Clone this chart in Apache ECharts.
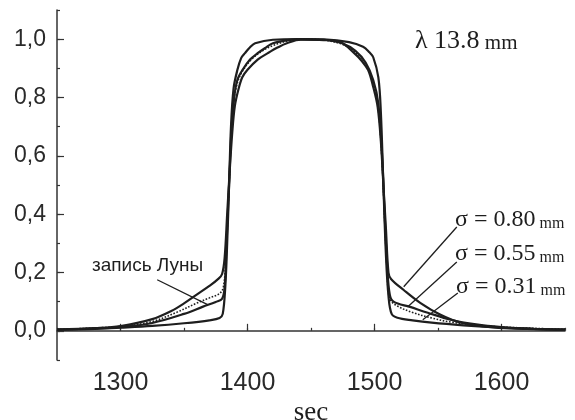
<!DOCTYPE html>
<html lang="ru">
<head>
<meta charset="UTF-8">
<title>λ 13.8 mm</title>
<script src="https://cdn.jsdelivr.net/npm/echarts@6/dist/echarts.min.js"></script>
<style>
    body { margin: 0; padding: 0; background: #fff; overflow: hidden; }
    #main { width: 575px; height: 420px; }
</style>
</head>
<body>
<div id="main"></div>
<script>
    // values: [sec, normalized signal]
    var sigma031 = [
        [1250, 0.004], [1280, 0.007], [1300, 0.011], [1325, 0.017], [1350, 0.026],
        [1370, 0.036], [1378, 0.044], [1380.5, 0.058], [1382.5, 0.15], [1384, 0.3],
        [1385.5, 0.5], [1387, 0.7], [1389, 0.83], [1392, 0.894], [1395, 0.935],
        [1398, 0.952], [1402, 0.972], [1406, 0.986], [1420, 0.998], [1440, 1.0],
        [1460, 0.999], [1480, 0.99], [1491, 0.974], [1496, 0.955], [1499, 0.938],
        [1503, 0.87], [1505, 0.75], [1507, 0.5], [1509, 0.26], [1511, 0.12],
        [1513.5, 0.058], [1518, 0.045], [1530, 0.036], [1545, 0.028], [1570, 0.019],
        [1600, 0.011], [1625, 0.007], [1650, 0.004]
    ];
    var sigma055 = [
        [1250, 0.004], [1280, 0.008], [1300, 0.013], [1325, 0.027], [1350, 0.058],
        [1365, 0.083], [1375, 0.099], [1380, 0.11], [1382, 0.15], [1383.5, 0.3],
        [1385.5, 0.5], [1387.5, 0.7], [1389.5, 0.8], [1392, 0.86], [1396, 0.894],
        [1402, 0.93], [1408, 0.952], [1414, 0.97], [1420, 0.986], [1432, 0.997],
        [1445, 1.0], [1460, 0.998], [1475, 0.985], [1485, 0.96], [1493, 0.92],
        [1499, 0.86], [1503, 0.78], [1506, 0.6], [1508, 0.4], [1510, 0.22],
        [1512, 0.125], [1515, 0.1], [1528, 0.082], [1542, 0.062], [1560, 0.038],
        [1580, 0.022], [1600, 0.013], [1625, 0.007], [1650, 0.004]
    ];
    var sigma080 = [
        [1250, 0.004], [1280, 0.009], [1300, 0.016], [1325, 0.04], [1340, 0.068],
        [1350, 0.094], [1360, 0.124], [1370, 0.154], [1377, 0.178], [1380, 0.195],
        [1382, 0.25], [1384, 0.4], [1386, 0.55], [1388, 0.68], [1390, 0.77],
        [1393, 0.83], [1396, 0.87], [1400, 0.895], [1408, 0.93], [1416, 0.952],
        [1424, 0.972], [1431, 0.986], [1442, 0.998], [1460, 0.997], [1473, 0.99],
        [1484, 0.952], [1490, 0.925], [1495, 0.894], [1499, 0.836], [1502.5, 0.767],
        [1505, 0.65], [1507, 0.5], [1509, 0.35], [1511, 0.2], [1513, 0.178],
        [1523, 0.14], [1536, 0.096], [1552, 0.055], [1568, 0.028], [1594, 0.012],
        [1620, 0.007], [1650, 0.004]
    ];
    var moonRecord = [
        [1250, 0.005], [1300, 0.015], [1325, 0.032], [1345, 0.065], [1360, 0.095],
        [1370, 0.113], [1378, 0.128], [1381, 0.15], [1383, 0.25], [1385, 0.45],
        [1387, 0.65], [1389, 0.78], [1392, 0.85], [1396, 0.89], [1402, 0.925],
        [1410, 0.955], [1420, 0.978], [1432, 0.994], [1445, 1.0], [1460, 0.997],
        [1475, 0.982], [1485, 0.955], [1493, 0.915], [1499, 0.85], [1503, 0.76],
        [1506, 0.58], [1508, 0.38], [1510, 0.2], [1512, 0.11], [1518, 0.085],
        [1530, 0.063], [1545, 0.044], [1560, 0.03], [1580, 0.02], [1600, 0.013],
        [1650, 0.005]
    ];
    var xTickLabels = [1300, 1400, 1500, 1600];
    var yTickLabels = [0, 0.2, 0.4, 0.6, 0.8, 1.0];

    // leader lines, in data coordinates: [label end, curve end]
    var leaders = [
        [[1564.8, 0.356], [1523, 0.151]],
        [[1564.8, 0.236], [1526, 0.082]],
        [[1565.6, 0.130], [1538, 0.038]],
        [[1328.9, 0.175], [1369, 0.089]]
    ];

    var ink = '#1e1e1e';
    var serif = '"Liberation Serif", "DejaVu Serif", serif';
    var sans = '"Liberation Sans", Arial, sans-serif';

    var chart = echarts.init(document.getElementById('main'));

    function curve(name, data, dotted) {
        return {
            name: name,
            type: 'line',
            xAxisIndex: 0,
            yAxisIndex: 0,
            data: data,
            showSymbol: false,
            smooth: 0.35,
            silent: true,
            lineStyle: {
                color: ink,
                width: dotted ? 1.6 : 2.2,
                type: dotted ? 'dotted' : 'solid'
            }
        };
    }

    var series = [
        curve('σ = 0.31', sigma031),
        curve('σ = 0.55', sigma055),
        curve('σ = 0.80', sigma080),
        curve('запись Луны', moonRecord, true)
    ];
    series[0].markLine = {
        silent: true,
        symbol: 'none',
        label: { show: false },
        lineStyle: { color: ink, width: 1.3, type: 'solid' },
        data: leaders.map(function (l) {
            return [{ coord: l[0] }, { coord: l[1] }];
        })
    };

    function sigmaLabel(text, top, left) {
        return {
            type: 'text',
            left: left,
            top: top,
            style: {
                text: '{a|' + text + '}{b| mm}',
                rich: {
                    a: { fontFamily: serif, fontSize: 24, fill: ink, lineHeight: 28, verticalAlign: 'bottom' },
                    b: { fontFamily: serif, fontSize: 16, fill: ink, lineHeight: 28, verticalAlign: 'bottom' }
                }
            }
        };
    }

    var option = {
        animation: false,
        grid: { left: 57, right: 10, top: 10, bottom: 60, outerBoundsMode: 'none', containLabel: false },
        xAxis: [{
            type: 'value',
            min: 1250,
            max: 1650,
            interval: 50,
            axisLine: { lineStyle: { color: '#333', width: 1.5 } },
            axisTick: { inside: true, length: 3, lineStyle: { color: '#333', width: 1.2 } },
            axisLabel: { show: false },
            splitLine: { show: false },
            name: 'sec',
            nameLocation: 'middle',
            nameGap: 39,
            nameTextStyle: { fontFamily: serif, fontSize: 27, color: ink }
        }, {
            type: 'value',
            min: 1250,
            max: 1650,
            position: 'bottom',
            axisLine: { show: false },
            axisTick: {
                inside: true, length: 7, customValues: xTickLabels,
                lineStyle: { color: '#333', width: 1.2 }
            },
            axisLabel: {
                customValues: xTickLabels,
                margin: 11,
                fontFamily: sans,
                fontSize: 25,
                color: '#2a2a2a',
                formatter: function (v) { return String(v); }
            },
            splitLine: { show: false }
        }],
        yAxis: [{
            type: 'value',
            min: -0.1,
            max: 1.1,
            interval: 0.1,
            axisLine: { show: true, lineStyle: { color: '#333', width: 1.5 } },
            axisTick: { show: true, inside: true, length: 3, lineStyle: { color: '#333', width: 1.2 } },
            axisLabel: { show: false },
            splitLine: { show: false }
        }, {
            type: 'value',
            min: -0.1,
            max: 1.1,
            position: 'left',
            axisLine: { show: false },
            axisTick: {
                show: true, inside: true, length: 7, customValues: yTickLabels,
                lineStyle: { color: '#333', width: 1.2 }
            },
            axisLabel: {
                customValues: yTickLabels,
                margin: 11,
                fontFamily: sans,
                fontSize: 23,
                color: '#2a2a2a',
                formatter: function (v) {
                    return v.toFixed(1).replace('.', ',');
                }
            },
            splitLine: { show: false }
        }],
        series: series,
        graphic: [{
            type: 'text',
            left: 415,
            top: 28,
            style: {
                text: '{a|λ 13.8}{b| mm}',
                rich: {
                    a: { fontFamily: serif, fontSize: 26, fill: ink, lineHeight: 30, verticalAlign: 'bottom' },
                    b: { fontFamily: serif, fontSize: 21, fill: ink, lineHeight: 30, verticalAlign: 'bottom' }
                }
            }
        },
            sigmaLabel('σ = 0.80', 208, 455),
            sigmaLabel('σ = 0.55', 242, 455),
            sigmaLabel('σ = 0.31', 275, 456),
        {
            type: 'text',
            left: 92,
            top: 256,
            style: {
                text: 'запись Луны',
                fontFamily: sans,
                fontSize: 19,
                fill: ink
            }
        }]
    };
    chart.setOption(option);
</script>
</body>
</html>
